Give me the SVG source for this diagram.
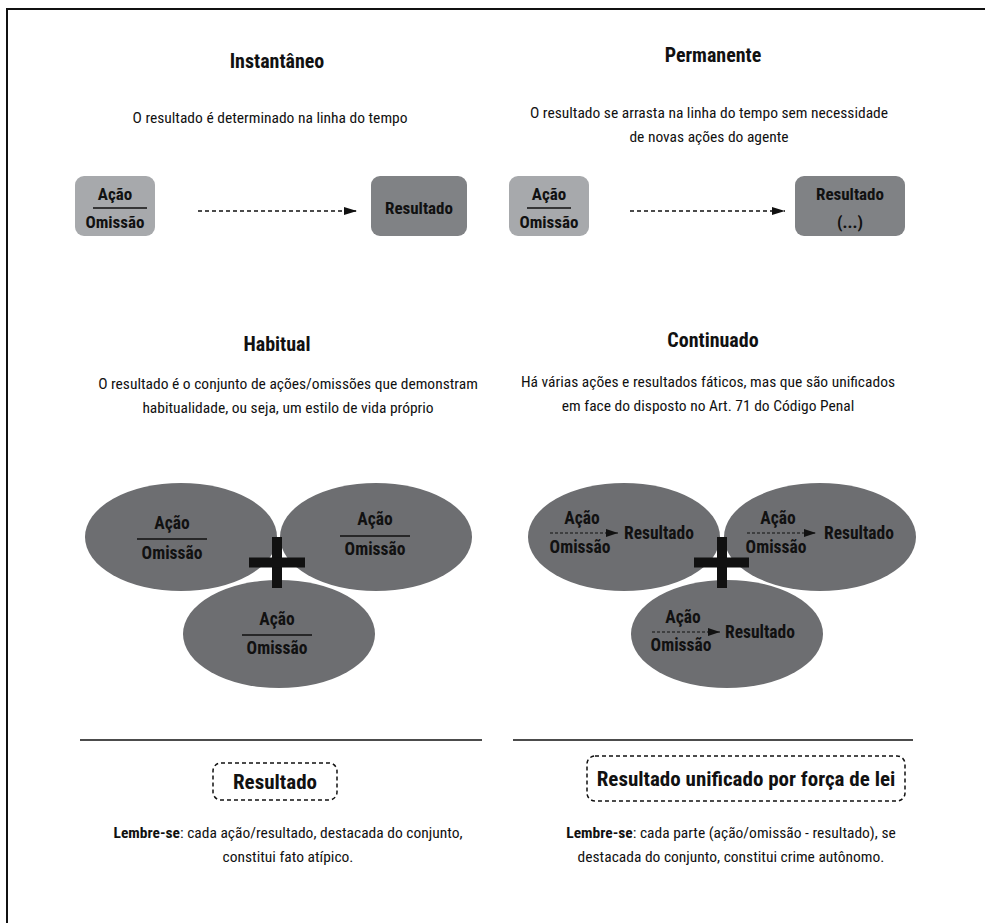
<svg xmlns="http://www.w3.org/2000/svg" width="985" height="923" viewBox="0 0 985 923">
<defs>
<marker id="ah" viewBox="0 0 10 10" refX="10" refY="5" markerWidth="13" markerHeight="8" markerUnits="userSpaceOnUse" orient="auto" preserveAspectRatio="none"><path d="M0,0 L10,5 L0,10 z" fill="#111"/></marker>
<marker id="ahs" viewBox="0 0 10 10" refX="10" refY="5" markerWidth="12" markerHeight="8" markerUnits="userSpaceOnUse" orient="auto" preserveAspectRatio="none"><path d="M0,0 L10,5 L0,10 z" fill="#111"/></marker>
</defs>
<style>
text{font-family:"Liberation Sans Narrow","Roboto Condensed","DejaVu Sans Condensed",sans-serif;fill:#111;text-anchor:middle}
.t{font-size:20px;font-weight:bold}
.b{font-size:15.5px}
.n{font-size:17px;font-weight:bold}
.e{font-size:17.5px;font-weight:bold}
.bx{font-size:21px;font-weight:bold}
.lt{fill:#a7a9ac}
.dk{fill:#808285}
.el{fill:#6d6e71}
.fr{stroke:#111;stroke-width:2;fill:none}
.dv{stroke:#111;stroke-width:1.5}
.dash{stroke:#111;stroke-width:1.5;stroke-dasharray:4 3;fill:none}
.dsm{stroke:#111;stroke-width:1.2;stroke-dasharray:3 2;fill:none}
.plus{stroke:#111;stroke-width:10}
</style>
<rect width="985" height="923" fill="#fff"/>
<path class="fr" d="M7,923 V9 H985"/>

<g id="instantaneo">
<text class="t" x="277" y="68">Instantâneo</text>
<text class="b" x="270" y="123">O resultado é determinado na linha do tempo</text>
</g>
<g id="inst-acao">
<rect class="lt" x="75" y="176" width="80" height="60" rx="9"/>
<text class="n" x="115" y="200">Ação</text>
<line class="dv" x1="93" y1="208" x2="147" y2="208"/>
<text class="n" x="115" y="228">Omissão</text>
</g>
<g id="inst-resultado">
<rect class="dk" x="371" y="176" width="96" height="60" rx="9"/>
<text class="n" x="419" y="214">Resultado</text>
</g>

<g id="permanente">
<text class="t" x="713" y="62">Permanente</text>
<text class="b" x="709" y="118">O resultado se arrasta na linha do tempo sem necessidade</text>
<text class="b" x="709" y="142">de novas ações do agente</text>
</g>
<g id="perm-acao">
<rect class="lt" x="509" y="176" width="80" height="60" rx="9"/>
<text class="n" x="549" y="200">Ação</text>
<line class="dv" x1="527" y1="208" x2="571" y2="208"/>
<text class="n" x="549" y="228">Omissão</text>
</g>
<g id="perm-resultado">
<rect class="dk" x="795" y="176" width="110" height="60" rx="9"/>
<text class="n" x="850" y="200">Resultado</text>
<text class="n" x="850" y="228">(...)</text>
</g>

<g id="habitual">
<text class="t" x="277" y="351">Habitual</text>
<text class="b" x="288" y="389">O resultado é o conjunto de ações/omissões que demonstram</text>
<text class="b" x="288" y="413">habitualidade, ou seja, um estilo de vida próprio</text>
</g>
<g id="hab-e1">
<ellipse class="el" cx="181" cy="537" rx="96" ry="54"/>
<text class="e" x="172" y="529">Ação</text>
<line class="dv" x1="137" y1="539" x2="207" y2="539"/>
<text class="e" x="172" y="559">Omissão</text>
</g>
<g id="hab-e2">
<ellipse class="el" cx="376" cy="537" rx="96" ry="54"/>
<text class="e" x="375" y="525">Ação</text>
<line class="dv" x1="340" y1="536" x2="410" y2="536"/>
<text class="e" x="375" y="555">Omissão</text>
</g>
<g id="hab-e3">
<ellipse class="el" cx="279" cy="634" rx="96" ry="54"/>
<text class="e" x="277" y="625">Ação</text>
<line class="dv" x1="242" y1="635" x2="312" y2="635"/>
<text class="e" x="277" y="654">Omissão</text>
</g>
<g id="hab-plus">
<line class="plus" x1="277" y1="537" x2="277" y2="588"/>
<line class="plus" x1="249" y1="562.5" x2="305" y2="562.5"/>
</g>

<g id="continuado">
<text class="t" x="713" y="347">Continuado</text>
<text class="b" x="708" y="387">Há várias ações e resultados fáticos, mas que são unificados</text>
<text class="b" x="708" y="411">em face do disposto no Art. 71 do Código Penal</text>
</g>
<g id="cont-e1">
<ellipse class="el" cx="624" cy="537" rx="96" ry="54"/>
<text class="e" x="582" y="524">Ação</text>
<text class="e" x="580" y="553">Omissão</text>
<text class="e" x="659" y="539">Resultado</text>
</g>
<g id="cont-e2">
<ellipse class="el" cx="820" cy="537" rx="96" ry="54"/>
<text class="e" x="778" y="524">Ação</text>
<text class="e" x="776" y="553">Omissão</text>
<text class="e" x="859" y="539">Resultado</text>
</g>
<g id="cont-e3">
<ellipse class="el" cx="727" cy="634" rx="96" ry="54"/>
<text class="e" x="683" y="623">Ação</text>
<text class="e" x="681" y="651">Omissão</text>
<text class="e" x="760" y="638">Resultado</text>
</g>
<g id="cont-plus">
<line class="plus" x1="722" y1="537" x2="722" y2="588"/>
<line class="plus" x1="694" y1="562.5" x2="749" y2="562.5"/>
</g>

<g id="connectors">
<line class="dash" x1="198" y1="211" x2="357" y2="211" marker-end="url(#ah)"/>
<line class="dash" x1="630" y1="211" x2="785" y2="211" marker-end="url(#ah)"/>
<line class="dsm" x1="550" y1="533" x2="618" y2="533" marker-end="url(#ahs)"/>
<line class="dsm" x1="747" y1="533" x2="816" y2="533" marker-end="url(#ahs)"/>
<line class="dsm" x1="652" y1="632" x2="720" y2="632" marker-end="url(#ahs)"/>
</g>

<g id="bottom-left">
<line class="dv" x1="80" y1="740" x2="482" y2="740"/>
<rect class="dash" x="213" y="763" width="124" height="37" rx="8"/>
<text class="bx" x="275" y="789">Resultado</text>
<text class="b" x="288" y="838"><tspan font-weight="bold">Lembre-se</tspan>: cada ação/resultado, destacada do conjunto,</text>
<text class="b" x="288" y="862">constitui fato atípico.</text>
</g>
<g id="bottom-right">
<line class="dv" x1="513" y1="740" x2="913" y2="740"/>
<rect class="dash" x="587" y="756" width="318" height="45" rx="8"/>
<text class="bx" x="746" y="786">Resultado unificado por força de lei</text>
<text class="b" x="731" y="838"><tspan font-weight="bold">Lembre-se</tspan>: cada parte (ação/omissão - resultado), se</text>
<text class="b" x="731" y="862">destacada do conjunto, constitui crime autônomo.</text>
</g>
</svg>
